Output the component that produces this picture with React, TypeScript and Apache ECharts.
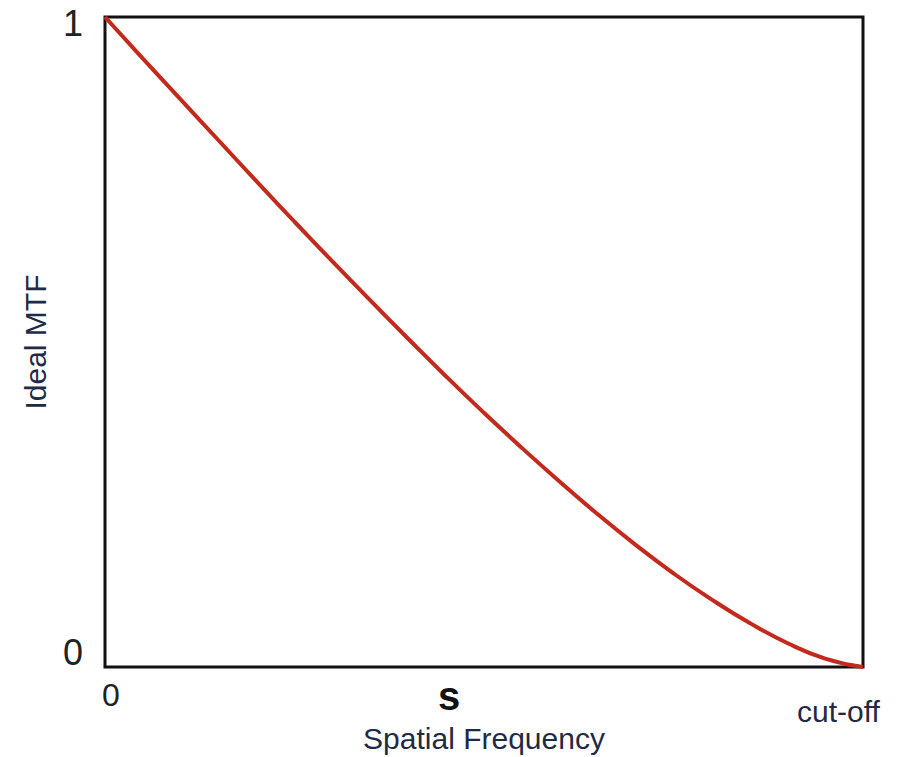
import React, { useEffect, useRef } from "react";
import * as echarts from "echarts";

// Spatial frequency (fraction of cut-off) and ideal MTF values
const freq = [0, 0.05, 0.1, 0.15, 0.2, 0.25, 0.3, 0.35, 0.4, 0.45, 0.5, 0.55, 0.6, 0.65, 0.7, 0.75, 0.8, 0.85, 0.9, 0.95, 1];
const mtf = [1.0, 0.936, 0.873, 0.81, 0.747, 0.685, 0.624, 0.564, 0.505, 0.447, 0.391, 0.337, 0.285, 0.235, 0.188, 0.144, 0.104, 0.068, 0.037, 0.013, 0.0];

const yTickLabels = ["0", "1"];
const xTickLabels = ["0", "cut-off"];
const xName = "Spatial Frequency";
const yName = "Ideal MTF";
const sMark = "s";

const FONT = "'Liberation Sans', Arial, sans-serif";

export default function App() {
  const ref = useRef<HTMLDivElement>(null);
  useEffect(() => {
    if (!ref.current) return;
    const chart = echarts.init(ref.current, null, { renderer: "svg" });
    chart.setOption({
      animation: false,
      backgroundColor: "#ffffff",
      textStyle: { fontFamily: FONT },
      grid: {
        left: 105,
        top: 17,
        right: 37,
        bottom: 90,
        outerBoundsMode: "none",
        containLabel: false,
        show: true,
        borderColor: "#111111",
        borderWidth: 3,
        backgroundColor: "transparent",
      },
      xAxis: {
        type: "value",
        min: 0,
        max: 1,
        interval: 1,
        axisLine: { show: false },
        axisTick: { show: false },
        splitLine: { show: false },
        axisLabel: {
          margin: 12,
          formatter: (v: number) => (v === 0 ? `{z|${xTickLabels[0]}}` : `{c|${xTickLabels[1]}}`),
          rich: {
            z: { fontSize: 32, color: "#222222", fontFamily: FONT, padding: [0, 0, 0, 12] },
            c: { fontSize: 30, color: "#1f2a44", fontFamily: FONT, padding: [17, 49, 0, 0] },
          },
        },
        name: xName,
        nameLocation: "middle",
        nameGap: 56,
        nameMoveOverlap: false,
        nameTextStyle: { fontSize: 30, lineHeight: 30, color: "#1f2a44", fontFamily: FONT },
      },
      yAxis: {
        type: "value",
        min: 0,
        max: 1,
        interval: 1,
        axisLine: { show: false },
        axisTick: { show: false },
        splitLine: { show: false },
        axisLabel: {
          margin: 22,
          formatter: (v: number) => (v === 1 ? `{t|${yTickLabels[1]}}` : `{b|${yTickLabels[0]}}`),
          rich: {
            t: { fontSize: 36, color: "#222222", fontFamily: FONT, padding: [13, 0, 0, 0] },
            b: { fontSize: 36, color: "#222222", fontFamily: FONT, padding: [0, 0, 30, 0] },
          },
        },
        name: yName,
        nameLocation: "middle",
        nameGap: 55,
        nameMoveOverlap: false,
        nameRotate: 90,
        nameTextStyle: { fontSize: 30, color: "#1f2a44", fontFamily: FONT },
      },
      graphic: [
        {
          type: "text",
          x: 449,
          y: 696,
          style: {
            text: sMark,
            fontSize: 40,
            lineHeight: 32,
            fontWeight: "bold",
            fill: "#111111",
            fontFamily: FONT,
            align: "center",
            verticalAlign: "middle",
          },
        },
      ],
      series: [
        {
          type: "line",
          data: freq.map((f, i) => [f, mtf[i]]),
          smooth: true,
          showSymbol: false,
          lineStyle: { color: "#c4291c", width: 4 },
          z: 3,
        },
      ],
    });
    return () => chart.dispose();
  }, []);
  return <div ref={ref} style={{ width: 900, height: 757, position: "absolute", left: 0, top: 0 }} />;
}
